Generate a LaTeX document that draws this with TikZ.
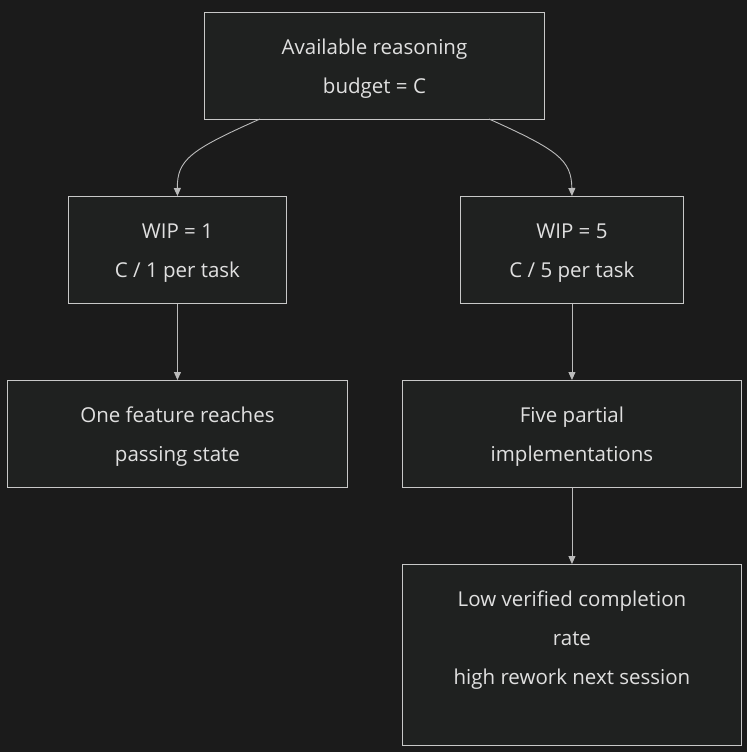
\documentclass[tikz,border=0pt]{standalone}
\usepackage{fontspec}
\setmainfont{Open Sans}
\usetikzlibrary{arrows.meta, positioning}
\definecolor{bgdark}{HTML}{1B1B1B}
\definecolor{boxfill}{HTML}{1F2120}
\definecolor{boxline}{HTML}{C8C8C8}
\definecolor{textlight}{HTML}{E0E0E0}
\definecolor{linkgray}{HTML}{BBBBBB}

\begin{document}
\begin{tikzpicture}[x=1pt, y=-1pt,
    stagebox/.style={draw=boxline, fill=boxfill, line width=0.9pt, inner sep=0pt, anchor=north west},
    boxtext/.style={text=textlight, align=center, font=\fontsize{20.5}{39}\selectfont},
    link/.style={draw=linkgray, line width=0.9pt, -{Triangle[length=8pt, width=7pt]}}
]
    \fill[bgdark] (0,0) rectangle (747,752);
    \useasboundingbox (0,0) rectangle (747,752);

    % Boxes
    \node[stagebox, minimum width=340pt, minimum height=107pt] (budget) at (204,12) {};
    \node[stagebox, minimum width=218pt, minimum height=107pt] (wipone) at (68,196) {};
    \node[stagebox, minimum width=223pt, minimum height=107pt] (wipfive) at (460,196) {};
    \node[stagebox, minimum width=340pt, minimum height=107pt] (onefeat) at (7,380) {};
    \node[stagebox, minimum width=339pt, minimum height=107pt] (partial) at (402,380) {};
    \node[stagebox, minimum width=339pt, minimum height=181pt] (lowrate) at (402,564) {};

    % Texts
    \node[boxtext] at ([yshift=-3pt]budget.center) {Available reasoning\\budget = C};
    \node[boxtext] at ([yshift=-3pt]wipone.center) {WIP = 1\\C / 1 per task};
    \node[boxtext] at ([yshift=-3pt]wipfive.center) {WIP = 5\\C / 5 per task};
    \node[boxtext] at ([yshift=-3pt]onefeat.center) {One feature reaches\\passing state};
    \node[boxtext] at ([yshift=-3pt]partial.center) {Five partial\\implementations};
    \node[boxtext] at ([yshift=15pt]lowrate.center) {Low verified completion\\rate\\high rework next session};

    % Connectors
    \coordinate (bl) at (260,119);
    \coordinate (br) at (489,119);
    \draw[link] (bl) .. controls (190,150) and (177,160) .. (wipone.north);
    \draw[link] (br) .. controls (558,150) and (571.5,160) .. (wipfive.north);
    \draw[link] (wipone.south) -- (onefeat.north);
    \draw[link] (wipfive.south) -- (partial.north);
    \draw[link] (partial.south) -- (lowrate.north);
\end{tikzpicture}
\end{document}
